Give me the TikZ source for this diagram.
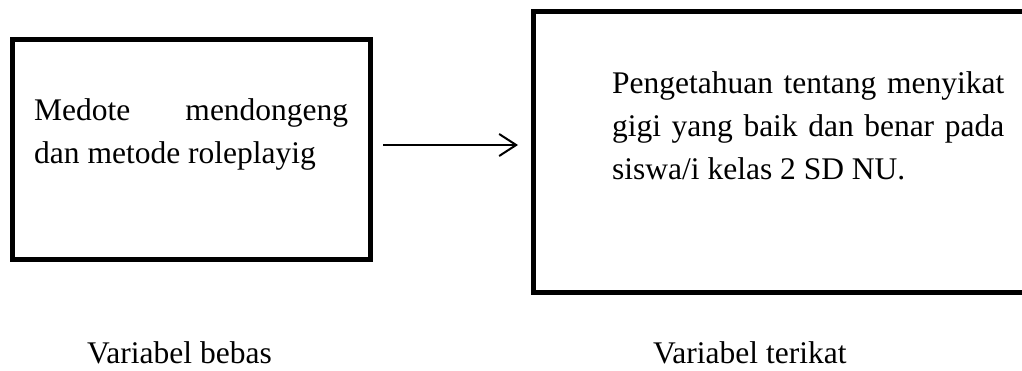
\documentclass[tikz,border=0pt]{standalone}
\usepackage{fontspec}
\setmainfont{Liberation Serif}
\usetikzlibrary{positioning, arrows.meta}

\begin{document}
\begin{tikzpicture}[
    x=1pt, y=-1pt,
    box/.style={draw, line width=5pt, inner sep=0pt},
    txt/.style={inner sep=0pt, anchor=north west, align=justify, font=\fontsize{31.5}{43}\selectfont},
    lbl/.style={inner sep=0pt, anchor=base west, font=\fontsize{31.5}{43}\selectfont},
    arr/.style={line width=2pt, -{Straight Barb[length=17pt, width=22pt, line width=2pt]}}
]
\useasboundingbox (0,0) rectangle (1022,370);
\clip (0,0) rectangle (1022,370);

\node[box, minimum width=358pt, minimum height=220pt] (bebas) at (191,149) {};
    \node[box, minimum width=500pt, minimum height=281pt] (terikat) at (783,151.5) {};

\node[txt, text width=314pt] (tbebas) at (34,98) {Medote mendongeng\linebreak dan metode roleplayig};
    \node[txt, text width=392pt] (tterikat) at (612,71.5) {Pengetahuan tentang menyikat gigi yang baik dan benar pada siswa/i kelas 2 SD NU.};

\draw[arr, shorten <=10.5pt, shorten >=12.5pt] ([yshift=4pt]bebas.east) -- ([yshift=4pt]bebas.east -| terikat.west);

\node[lbl] (lbebas) at (87,363) {Variabel bebas};
    \node[lbl] (lterikat) at (653,363) {Variabel terikat};
\end{tikzpicture}
\end{document}
